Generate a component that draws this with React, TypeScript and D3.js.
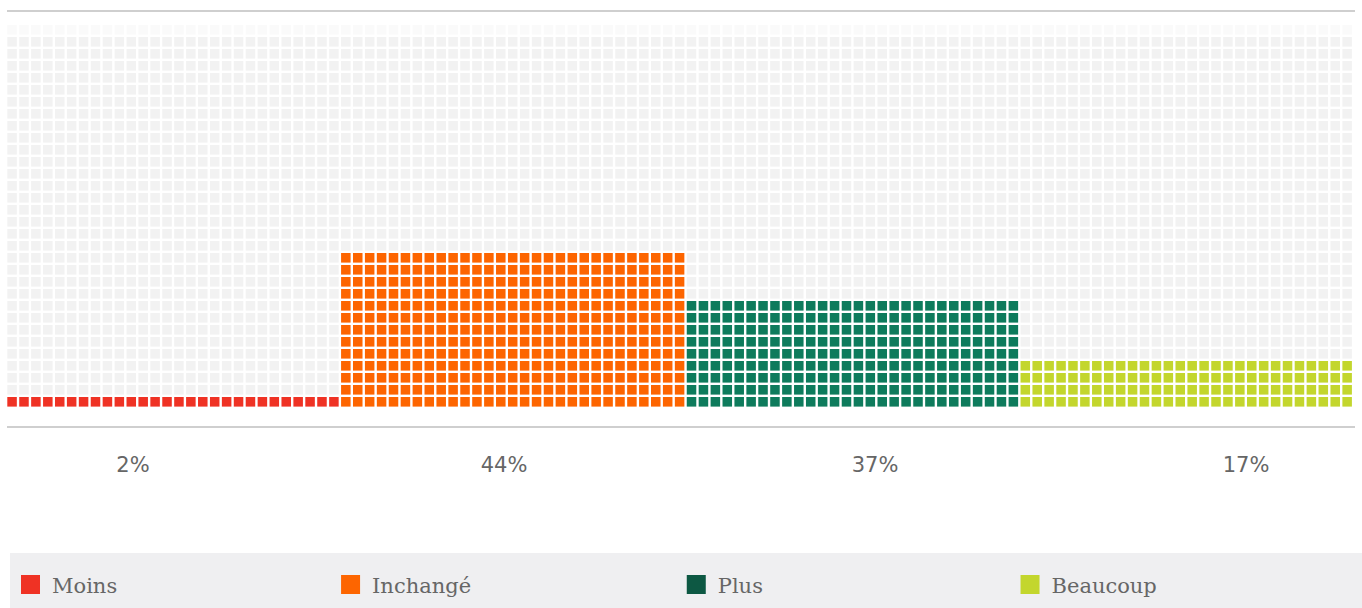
import * as d3 from "d3";

const categories = ["Moins", "Inchangé", "Plus", "Beaucoup"];
const percents = [2, 44, 37, 17];
// filled rows per column
const filledRows = [1, 13, 9, 4];
// cell columns per category block
const blockCols = [28, 29, 28, 28];
const colors = ["#ef3224", "#fd6500", "#0e7b5c", "#c3d62d"];
const legendColors = ["#ef3224", "#fd6500", "#0d5843", "#c3d62d"];
const totalRows = 32;

const width = 1362;
const height = 608;

export default function App() {
  const totalCols = d3.sum(blockCols);
  const x = d3.scaleLinear([0, totalCols], [7.3, 1354.3]);
  const y = d3.scaleLinear([0, totalRows], [409, 25]);
  const pitchX = x(1) - x(0);
  const pitchY = y(0) - y(1);
  const cw = pitchX - 2.4;
  const ch = pitchY - 2.4;
  const starts = d3.cumsum([0, ...blockCols]);
  const labelX = d3.scalePoint(categories, [133, 1246]);

  const cells = [];
  categories.forEach((c, i) => {
    for (let col = 0; col < blockCols[i]; col++) {
      for (let r = 0; r < totalRows; r++) {
        const filled = r < filledRows[i];
        cells.push({
          key: `${i}-${col}-${r}`,
          x: x(starts[i] + col),
          y: y(r + 1),
          fill: filled ? colors[i] : r === totalRows - 1 ? "#fafafa" : "#f2f2f2",
        });
      }
    }
  });

  return (
    <svg
      width={width}
      height={height}
      style={{ position: "absolute", left: 0, top: 0, background: "#fff" }}
    >
      <line x1={7} x2={1355} y1={11} y2={11} stroke="#cfcfcf" strokeWidth={2} />
      <g>
        {cells.map((d) => (
          <rect key={d.key} x={d.x} y={d.y} width={cw} height={ch} fill={d.fill} />
        ))}
      </g>
      <line x1={7} x2={1355} y1={427} y2={427} stroke="#cfcfcf" strokeWidth={2} />
      <g fontFamily="'DejaVu Sans', sans-serif" fontSize={21} fill="#666" textAnchor="middle">
        {categories.map((c, i) => (
          <text key={c} x={labelX(c)} y={472}>
            {percents[i]}%
          </text>
        ))}
      </g>
      <rect x={10} y={553} width={1352} height={55} fill="#efeff1" />
      <g fontFamily="'DejaVu Serif', serif" fontSize={21} fill="#666">
        {categories.map((c, i) => {
          const lx = Math.max(x(starts[i]), 21);
          return (
            <g key={c} transform={`translate(${lx},575)`}>
              <rect width={19} height={19} fill={legendColors[i]} />
              <text x={31} y={18}>
                {c}
              </text>
            </g>
          );
        })}
      </g>
    </svg>
  );
}
